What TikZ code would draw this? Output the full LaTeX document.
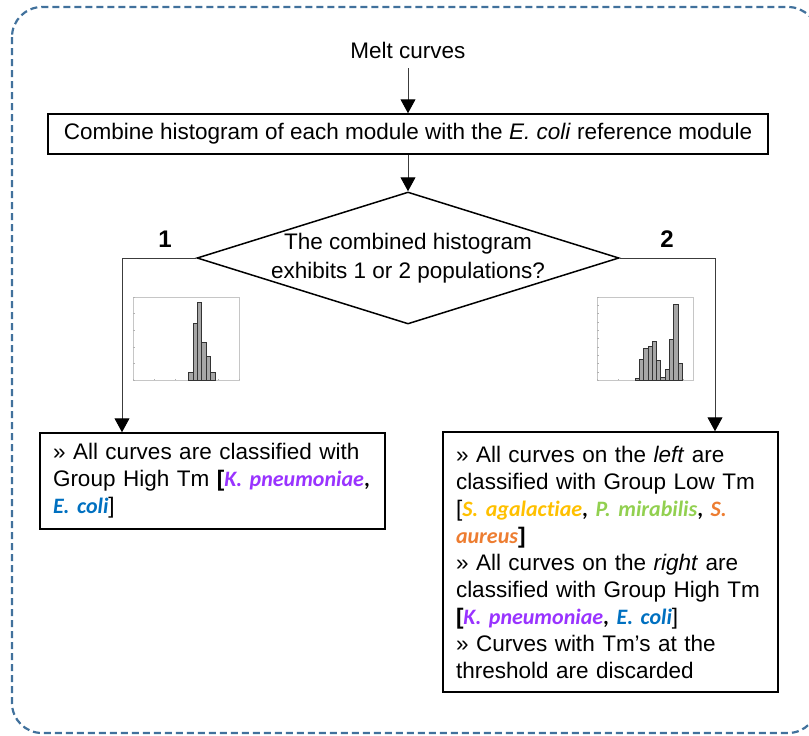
\documentclass[tikz,border=0pt]{standalone}
\usepackage{fontspec}
\setmainfont{Liberation Sans}
\newfontfamily\spfont{Carlito}[Ligatures=NoCommon]
\usetikzlibrary{arrows.meta,shapes.geometric}

% keep species names whole when lines are broken
\hyphenpenalty=10000
\exhyphenpenalty=10000

\definecolor{frameblue}{RGB}{65,113,156}
\definecolor{kpn}{RGB}{153,51,255}
\definecolor{eco}{RGB}{0,112,192}
\definecolor{sag}{RGB}{255,192,0}
\definecolor{pmi}{RGB}{146,208,80}
\definecolor{sau}{RGB}{237,125,49}
\definecolor{lineclr}{RGB}{60,60,60}

% species names: bold italic, coloured
\newcommand\species[2]{{\spfont\fontsize{22}{27}\selectfont\bfseries\itshape\color{#1}#2}}
\newcommand\bcomma{{\spfont\bfseries ,}}

\tikzset{
  box/.style={draw=black, line width=1.5pt, inner sep=2pt},
  textbox/.style={box, align=left, inner xsep=13pt, inner ysep=2pt},
  arr/.style={draw=lineclr, line width=1pt,
    -{Triangle[width=15pt,length=14pt,fill=black,color=black]}},
  conn/.style={draw=lineclr, line width=1pt},
  histframe/.style={draw=gray!45, line width=0.5pt},
  histtick/.style={draw=gray!60, line width=0.4pt},
  bar/.style={fill=gray!70, draw=gray!40!black, line width=0.4pt},
  branch/.style={font=\fontsize{24}{28}\selectfont\bfseries},
}

\begin{document}
\begin{tikzpicture}[x=1pt, y=-1pt, font=\fontsize{22.5}{27}\selectfont]
\useasboundingbox (0,0) rectangle (809,736);

% dashed outer frame
\begin{scope}
  \clip (0,0) rectangle (809,736);
  \draw[frameblue, line width=2.2pt, dash pattern=on 7pt off 4pt, rounded corners=30pt]
    (12,7) rectangle (818,733);
\end{scope}

% nodes
\node[inner sep=0pt, minimum height=36pt] (melt) at (408,50) {Melt curves};
\node[box, minimum width=720pt, minimum height=40pt] (comb) at (408,134)
  {Combine histogram of each module with the \textit{E. coli} reference module};
\node[draw=black, line width=1.5pt, diamond, minimum width=422pt, minimum height=132pt,
      inner sep=0pt] (dia) at (408,258) {};
\node[align=center, font=\fontsize{22.5}{29}\selectfont] (diatext) at (408,258)
  {The combined histogram\\exhibits 1 or 2 populations?};

\node[textbox, text width=319pt, minimum height=96pt] (lbox) at (212.5,481)
  {» All curves are classified with\\
   Group High Tm {\bfseries[}\species{kpn}{K. pneumoniae}\bcomma\\
   \species{eco}{E. coli}]};

\node[textbox, text width=309pt, minimum height=260pt] (rbox) at (610.5,562)
  {» All curves on the \textit{left} are\\
   classified with Group Low Tm\\
   {[}\species{sag}{S. agalactiae}\bcomma\ \species{pmi}{P. mirabilis}\bcomma\ \species{sau}{S.}\\
   \species{sau}{aureus}{\bfseries]}\\
   » All curves on the \textit{right} are\\
   classified with Group High Tm\\
   {\bfseries[}\species{kpn}{K. pneumoniae}\bcomma\ \species{eco}{E. coli}]\\
   » Curves with Tm’s at the\\
   threshold are discarded};

% branch corners
\coordinate (lturn) at (122,258);
\coordinate (rturn) at (715,258);

% connectors
\draw[arr] (melt.south) -- (comb.north);
\draw[arr] (comb.south) -- (dia.north);
\draw[conn] (dia.west) -- (lturn);
\draw[arr] (lturn) -- (lturn |- lbox.north);
\draw[conn] (dia.east) -- (rturn);
\draw[arr] (rturn) -- (rturn |- rbox.north);

\node[branch] (one) at (165,239) {1};
\node[branch] (two) at (667,239) {2};

% histogram: one population
\draw[histframe] (133,297) rectangle (239,380);
\foreach \k in {0,...,5} {
  \draw[histtick] (133,380-\k*16.6) -- ++(1.5,0);
  \draw[histtick] (133+\k*21.2,380) -- ++(0,-1.5);
}
\foreach \h [count=\i from 0] in {8.3,57,78,38,24,8.3}
  \draw[bar] (188.3+\i*4.45,380) rectangle ++(4.45,-\h);

% histogram: two populations
\draw[histframe] (597,297) rectangle (693,380);
\foreach \k in {0,...,10}
  \draw[histtick] (597,380-\k*8.3) -- ++(1.5,0);
\foreach \k in {0,...,4}
  \draw[histtick] (597+\k*21.5,380) -- ++(0,-1.5);
\foreach \h [count=\i from 0] in {2.3,20.7,31.7,34.3,39,20,2.7,11,41.3,75.7,17.3}
  \draw[bar] (635+\i*4.28,380) rectangle ++(4.28,-\h);
\end{tikzpicture}
\end{document}
